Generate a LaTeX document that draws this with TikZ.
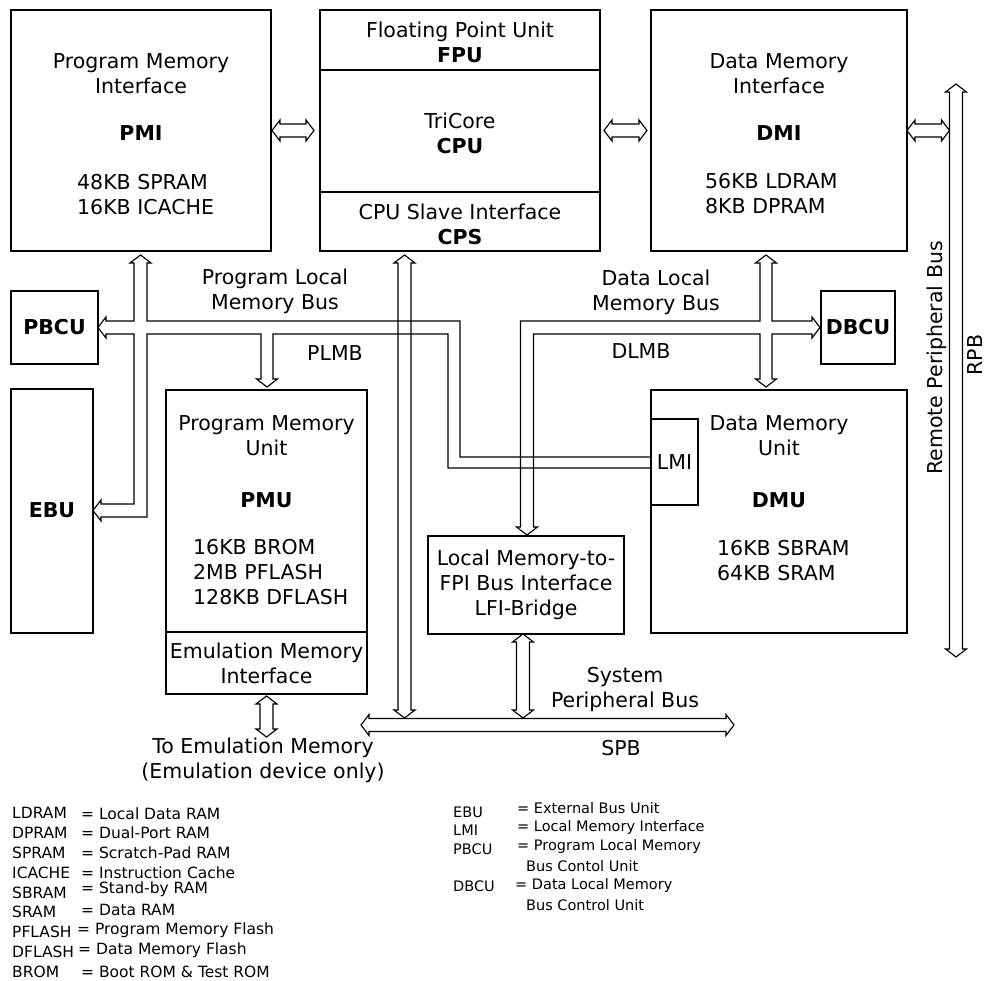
\documentclass[tikz,border=0pt]{standalone}
\usepackage{fontspec}
\setmainfont{DejaVu Sans}
\usepackage{tikz}
\usetikzlibrary{calc}

\tikzset{
	box/.style={draw, line width=1.3pt, inner sep=0pt, outer sep=0pt, anchor=north west},
	bus/.style={draw, line width=1.15pt, line join=miter},
	lbl/.style={font=\fontsize{20.5}{25}\selectfont, align=center, inner sep=0pt},
	lst/.style={font=\fontsize{20.5}{25}\selectfont, align=left, anchor=west, inner sep=0pt},
	key/.style={font=\fontsize{15.5}{19.8}\selectfont, anchor=west, inner sep=0pt},
	keyr/.style={font=\fontsize{14.5}{18}\selectfont, anchor=west, inner sep=0pt},
	% hollow double arrows, left-right and top-bottom
	hfat/.style={to path={let \p1=(\tikztostart), \p2=(\tikztotarget) in
		(\x1+8pt,\y1+6.5pt) -- (\x2-8pt,\y1+6.5pt) -- (\x2-8pt,\y1+10.5pt) -- (\x2,\y1)
		-- (\x2-8pt,\y1-10.5pt) -- (\x2-8pt,\y1-6.5pt) -- (\x1+8pt,\y1-6.5pt)
		-- (\x1+8pt,\y1-10.5pt) -- (\x1,\y1) -- (\x1+8pt,\y1+10.5pt) -- cycle}},
	vfat/.style={to path={let \p1=(\tikztostart), \p2=(\tikztotarget) in
		(\x1-6.5pt,\y1-8pt) -- (\x1-10.5pt,\y1-8pt) -- (\x1,\y1) -- (\x1+10.5pt,\y1-8pt)
		-- (\x1+6.5pt,\y1-8pt) -- (\x1+6.5pt,\y2+8pt) -- (\x1+10.5pt,\y2+8pt) -- (\x1,\y2)
		-- (\x1-10.5pt,\y2+8pt) -- (\x1-6.5pt,\y2+8pt) -- cycle}},
}

\begin{document}
\begin{tikzpicture}[x=1pt, y=-1pt]
	\useasboundingbox (0,0) rectangle (989,981);
	% Boxes
	\node[box, minimum width=260pt, minimum height=241pt] (pmi) at (11,10) {};
	\node[box, minimum width=280pt, minimum height=241pt] (cpu) at (320,10) {};
	\node[box, minimum width=256pt, minimum height=241pt] (dmi) at (651,10) {};
	\node[box, minimum width=87pt, minimum height=73pt] (pbcu) at (11,291) {};
	\node[box, minimum width=82pt, minimum height=244pt] (ebu) at (11,389) {};
	\node[box, minimum width=201pt, minimum height=242pt] (pmu) at (166,390) {};
	\node[box, minimum width=201pt, minimum height=62pt] (emi) at (166,632) {};
	\node[box, minimum width=74pt, minimum height=73pt] (dbcu) at (821,291) {};
	\node[box, minimum width=256pt, minimum height=243pt] (dmu) at (651,390) {};
	\node[box, minimum width=47pt, minimum height=86pt] (lmi) at (651,419) {};
	\node[box, minimum width=196pt, minimum height=98pt] (lfi) at (428,536) {};
	% CPU parts
	\draw[line width=1.3pt] (cpu.west |- 0,70) -- (cpu.east |- 0,70);
	\draw[line width=1.3pt] (cpu.west |- 0,192) -- (cpu.east |- 0,192);

	% Box texts
	\node[lbl] (pmitxt) at (141,74) {Program Memory\\Interface};
	\node[lbl] (pminame) at (141,133) {\textbf{PMI}};
	\node[lst] (pmimem) at (77,195) {48KB SPRAM\\16KB ICACHE};
	\node[lbl] (fpu) at (460,42) {Floating Point Unit\\\textbf{FPU}};
	\node[lbl] (core) at (460,133) {TriCore\\\textbf{CPU}};
	\node[lbl] (cps) at (460,224.5) {CPU Slave Interface\\\textbf{CPS}};
	\node[lbl] (dmitxt) at (779,74) {Data Memory\\Interface};
	\node[lbl] (dminame) at (779,133) {\textbf{DMI}};
	\node[lst] (dmimem) at (705,194) {56KB LDRAM\\8KB DPRAM};
	\node[lbl] (pbcutxt) at (pbcu.center) {\textbf{PBCU}};
	\node[lbl] (ebutxt) at (52,510) {\textbf{EBU}};
	\node[lbl] (pmutxt) at (266.5,435.5) {Program Memory\\Unit};
	\node[lbl] (pmuname) at (266.5,500) {\textbf{PMU}};
	\node[lst] (pmumem) at (193,572) {16KB BROM\\2MB PFLASH\\128KB DFLASH};
	\node[lbl] (emitxt) at (emi.center) {Emulation Memory\\Interface};
	\node[lbl] (dbcutxt) at (dbcu.center) {\textbf{DBCU}};
	\node[lbl] (dmutxt) at (779,435.5) {Data Memory\\Unit};
	\node[lbl] (dmuname) at (779,500) {\textbf{DMU}};
	\node[lst] (dmumem) at (717,560.5) {16KB SBRAM\\64KB SRAM};
	\node[lbl] (lmitxt) at (lmi.center) {LMI};
	\node[lbl] (lfitxt) at (lfi.center) {Local Memory-to-\\FPI Bus Interface\\LFI-Bridge};

	% Bus names
	\node[lbl] (plmbname) at (275,291.5) {Program Local\\Memory Bus};
	\node[lbl] (plmb) at (335,353) {PLMB};
	\node[lbl] (dlmbname) at (656,292) {Data Local\\Memory Bus};
	\node[lbl] (dlmb) at (641,351) {DLMB};
	\node[lbl] (spbname) at (625,689.5) {System\\Peripheral Bus};
	\node[lbl] (spb) at (621,748) {SPB};
	\node[lbl] (emuout) at (263,760) {To Emulation Memory\\(Emulation device only)};
	\node[lbl, rotate=90] (rpbname) at (937,358) {Remote Peripheral Bus};
	\node[lbl, rotate=90] (rpb) at (975,355) {RPB};

	% Program local memory bus
	\draw[bus] (lmi.west |- 0,457) -- (460,457) -- (460,321) -- (147,321) -- (147,263)
		-- (151,263) -- (140.5,255) -- (130,263) -- (134,263) -- (134,321) -- (106,321)
		-- (106,317) -- (98,327.5) -- (106,338) -- (106,334) -- (134,334) -- (134,504)
		-- (101,504) -- (101,500) -- (93,510.5) -- (101,521) -- (101,517) -- (147,517)
		-- (147,334) -- (261,334) -- (261,379) -- (256.5,379) -- (267,387) -- (277.5,379)
		-- (273,379) -- (273,334) -- (448,334) -- (448,468) -- (lmi.west |- 0,468);
	% Data local memory bus
	\draw[bus] (520.5,527) -- (520.5,321) -- (760,321) -- (760,263) -- (755.5,263)
		-- (766,255) -- (776.5,263) -- (772,263) -- (772,321) -- (812,321) -- (812,317)
		-- (820,327.5) -- (812,338) -- (812,334) -- (772,334) -- (772,379) -- (776.5,379)
		-- (766,387) -- (755.5,379) -- (760,379) -- (760,334) -- (533.5,334) -- (533.5,527)
		-- (537.5,527) -- (527,535) -- (516.5,527) -- cycle;

	% Double arrows
	\coordinate (spbL) at (361,725);
	\coordinate (spbR) at (734,725);
	\coordinate (rpbT) at (956,84);
	\coordinate (rpbB) at (956,657);
	\coordinate (xcps) at (404.5,0);
	\coordinate (xlfi) at (523,0);
	\draw[bus] (spbL) to[hfat] (spbR);
	\draw[bus] (rpbT) to[vfat] (rpbB);
	\draw[bus] ($(pmi.east)+(1,0)$) to[hfat] ($(cpu.west)+(-6,0)$);
	\draw[bus] ($(cpu.east)+(4,0)$) to[hfat] ($(dmi.west)+(-4,0)$);
	\draw[bus] (dmi.east) to[hfat] ($(dmi.east -| rpbT)+(-6.5,0)$);
	\draw[bus] ($(cpu.south -| xcps)+(0,4)$) to[vfat] ($(spbL -| xcps)+(0,-7)$);
	\draw[bus] (lfi.south -| xlfi) to[vfat] ($(spbL -| xlfi)+(0,-7)$);
	\draw[bus] ($(emi.south)+(0,2)$) to[vfat] ($(emi.south)+(0,43)$);

	% Abbreviations
	\foreach \ab/\df/\dx/\dy [count=\i] in {LDRAM/Local Data RAM/81/0, DPRAM/Dual-Port RAM/81/0,
		SPRAM/Scratch-Pad RAM/81/0, ICACHE/Instruction Cache/81/0, SBRAM/Stand-by RAM/81/-3,
		SRAM/Data RAM/81/-2, PFLASH/Program Memory Flash/77/-2, DFLASH/Data Memory Flash/78/-2,
		BROM/Boot ROM \& Test ROM/81/0}{
		\node[key] (ab\i) at (12,793.5+19.8*\i) {\ab};
		\node[key] (df\i) at (\dx,793.5+19.8*\i+\dy) {= \df};
	}
	\node[keyr] (k1) at (453,812.7) {EBU};
	\node[keyr] (k1d) at (517,808.3) {= External Bus Unit};
	\node[keyr] (k2) at (453,830.7) {LMI};
	\node[keyr] (k2d) at (517,827.3) {= Local Memory Interface};
	\node[keyr] (k3) at (453,849.3) {PBCU};
	\node[keyr] (k3d) at (517,846) {= Program Local Memory};
	\node[keyr] (k3e) at (526,866) {Bus Contol Unit};
	\node[keyr] (k4) at (453,886.7) {DBCU};
	\node[keyr] (k4d) at (515,885) {= Data Local Memory};
	\node[keyr] (k4e) at (526,905) {Bus Control Unit};
\end{tikzpicture}
\end{document}
